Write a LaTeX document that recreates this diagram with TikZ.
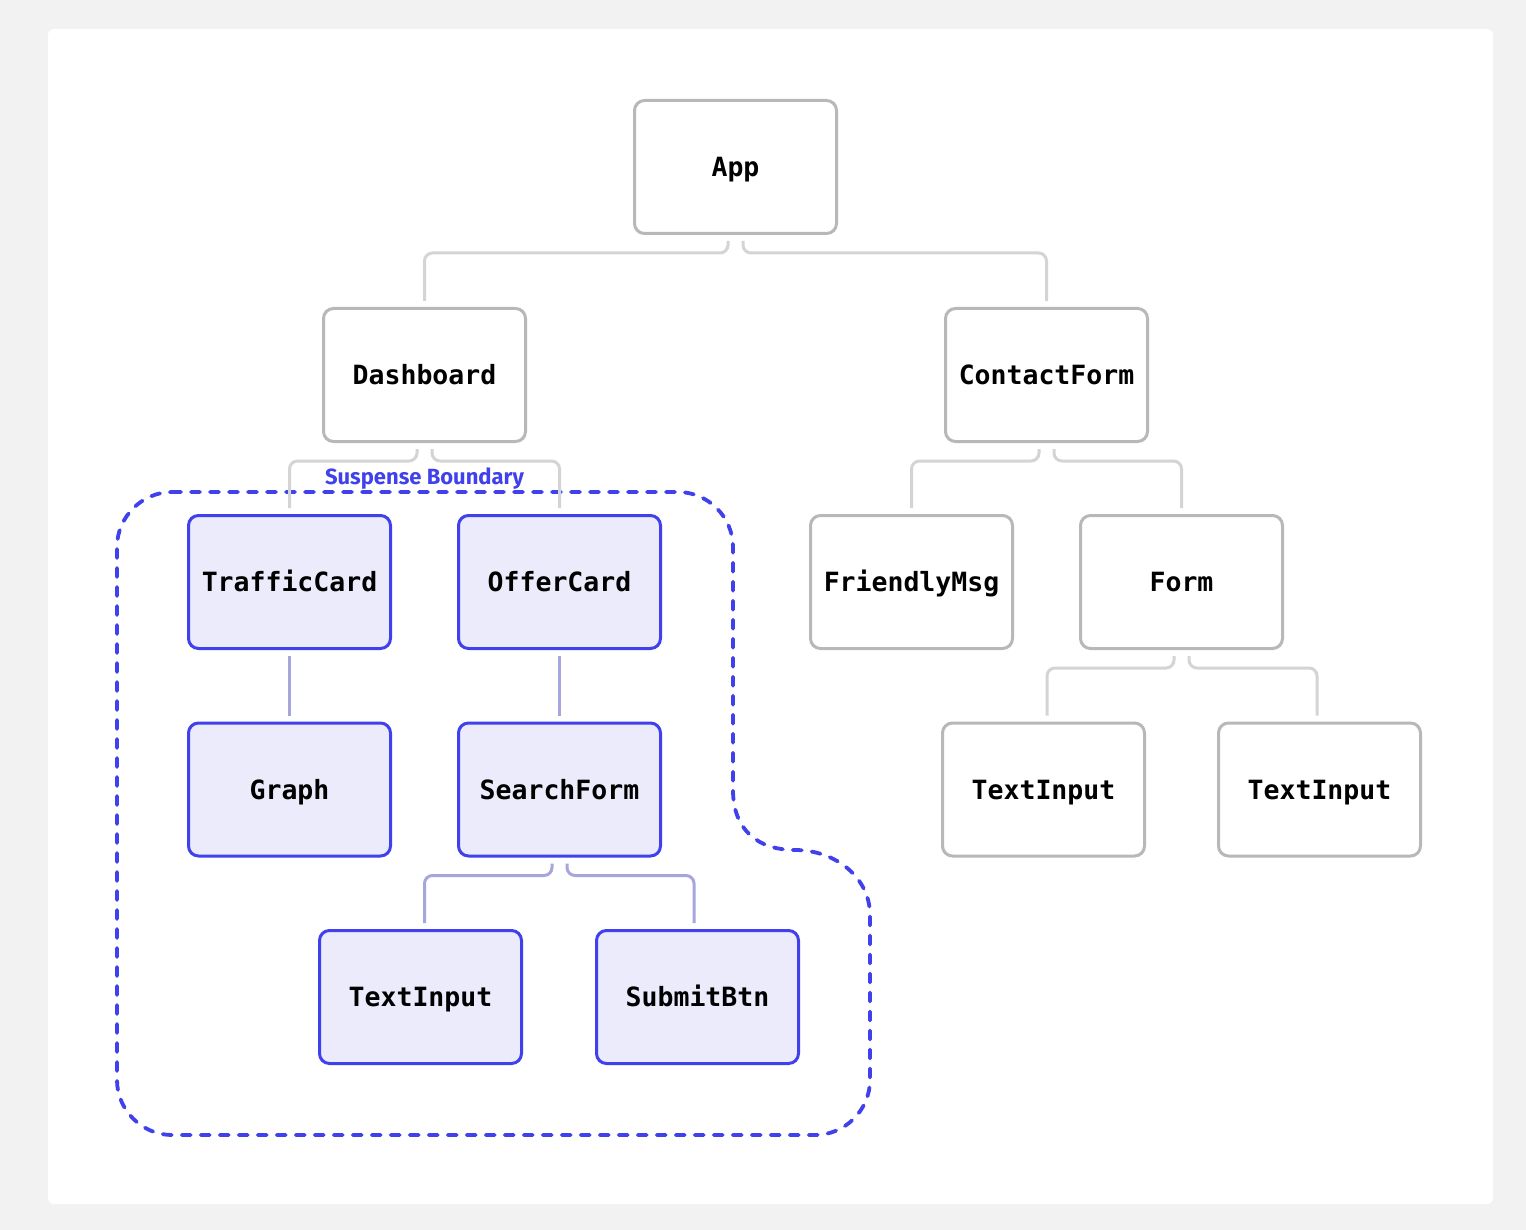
\documentclass[tikz,border=0pt]{standalone}
\usepackage{fontspec}
\setmonofont{DejaVu Sans Mono}
\newfontfamily\labelfont{Fira Sans}
\definecolor{bgout}{HTML}{F2F2F2}
\definecolor{grayborder}{HTML}{B8B8B8}
\definecolor{grayconn}{HTML}{D4D4D4}
\definecolor{suspblue}{HTML}{4040EC}
\definecolor{suspfill}{HTML}{EBEBFC}
\definecolor{suspconn}{HTML}{A6A6DD}
\tikzset{
  comp/.style={draw=grayborder, line width=3pt, fill=white, rounded corners=10pt,
    minimum width=202pt, minimum height=133pt, inner sep=0pt,
    text height=19pt, text depth=0pt,
    font=\fontsize{26.5}{30}\selectfont\ttfamily\bfseries, text=black},
  susp/.style={comp, draw=suspblue, fill=suspfill},
  conn/.style={draw=grayconn, line width=3pt, rounded corners=8pt},
  sconn/.style={conn, draw=suspconn},
  boundary/.style={draw=suspblue, line width=3.8pt, dash pattern=on 9pt off 10pt, line cap=round},
  blabel/.style={text=suspblue, font=\fontsize{22}{25}\selectfont\labelfont\bfseries, inner sep=0pt}
}
\begin{document}
\begin{tikzpicture}[x=1pt,y=-1pt]
\useasboundingbox (0,0) rectangle (1526,1230);
\fill[bgout] (0,0) rectangle (1526,1230);
\fill[white, rounded corners=6pt] (48,29) rectangle (1493,1204);

% boundary
\path[boundary] (172,492) -- (678,492)
  .. controls (708,492) and (733,517) .. (733,547)
  -- (733,790)
  .. controls (733,830) and (758,850) .. (795,850)
  .. controls (836,850) and (870,878) .. (870,915)
  -- (870,1080)
  .. controls (870,1110) and (845,1135) .. (815,1135)
  -- (172,1135)
  .. controls (142,1135) and (117,1110) .. (117,1080)
  -- (117,547)
  .. controls (117,517) and (142,492) .. (172,492);
\node[blabel, anchor=base] (blab) at (424.5,484) {Suspense Boundary};

\node[comp] (app) at (735.5,167) {App};
\node[comp] (dash) at (424.5,375) {Dashboard};
\node[comp] (contact) at (1046.5,375) {ContactForm};
\node[susp] (traffic) at (289.5,582) {TrafficCard};
\node[susp] (offer) at (559.5,582) {OfferCard};
\node[comp] (friendly) at (911.5,582) {FriendlyMsg};
\node[comp] (form) at (1181.5,582) {Form};
\node[susp] (graph) at (289.5,789.5) {Graph};
\node[susp] (search) at (559.5,789.5) {SearchForm};
\node[comp] (tiA) at (1043.5,789.5) {TextInput};
\node[comp] (tiB) at (1319.5,789.5) {TextInput};
\node[susp] (tiC) at (420.5,997) {TextInput};
\node[susp] (submit) at (697.5,997) {SubmitBtn};

% connectors
\draw[conn] ([xshift=-7.5pt,yshift=-6pt]app.south) -- ++(0,12) -| ([yshift=6pt]dash.north);
\draw[conn] ([xshift=7.5pt,yshift=-6pt]app.south) -- ++(0,12) -| ([yshift=6pt]contact.north);
\draw[conn] ([xshift=-7.5pt,yshift=-6pt]dash.south) -- ++(0,12) -| ([yshift=6pt]traffic.north);
\draw[conn] ([xshift=7.5pt,yshift=-6pt]dash.south) -- ++(0,12) -| ([yshift=6pt]offer.north);
\draw[conn] ([xshift=-7.5pt,yshift=-6pt]contact.south) -- ++(0,12) -| ([yshift=6pt]friendly.north);
\draw[conn] ([xshift=7.5pt,yshift=-6pt]contact.south) -- ++(0,12) -| ([yshift=6pt]form.north);
\draw[conn] ([xshift=-7.5pt,yshift=-6pt]form.south) -- ++(0,12) -| ([xshift=3.5pt,yshift=6pt]tiA.north);
\draw[conn] ([xshift=7.5pt,yshift=-6pt]form.south) -- ++(0,12) -| ([xshift=-2.5pt,yshift=6pt]tiB.north);
\draw[sconn] ([yshift=-6pt]traffic.south) -- ([yshift=6pt]graph.north);
\draw[sconn] ([yshift=-6pt]offer.south) -- ([yshift=6pt]search.north);
\draw[sconn] ([xshift=-7.5pt,yshift=-6pt]search.south) -- ++(0,12) -| ([xshift=4pt,yshift=6pt]tiC.north);
\draw[sconn] ([xshift=7.5pt,yshift=-6pt]search.south) -- ++(0,12) -| ([xshift=-3.5pt,yshift=6pt]submit.north);
\end{tikzpicture}
\end{document}
